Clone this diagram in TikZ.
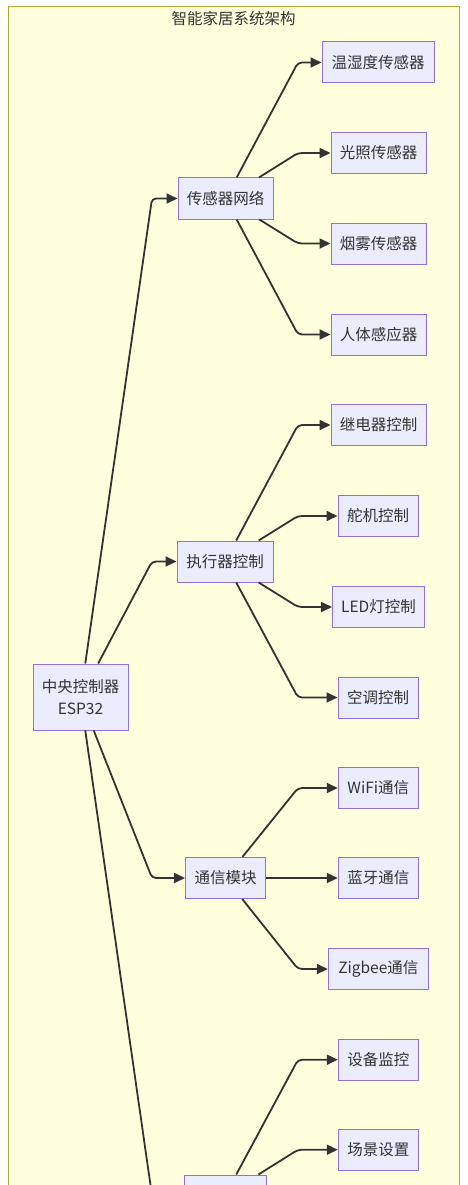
\documentclass[tikz,border=0pt]{standalone}
\usepackage{fontspec}
\setmainfont{Noto Sans CJK SC}
\usetikzlibrary{arrows.meta}
\definecolor{clusterfill}{HTML}{FFFFDE}
\definecolor{clusterline}{HTML}{AAAA33}
\definecolor{nodefill}{HTML}{ECECFF}
\definecolor{nodeline}{HTML}{9370DB}
\definecolor{edgecol}{HTML}{333333}
\definecolor{textcol}{HTML}{333333}
\begin{document}
\begin{tikzpicture}[x=1pt,y=-1pt,
  box/.style={draw=nodeline,fill=nodefill,line width=1pt,inner sep=0pt,
    minimum height=41pt,text=textcol,font=\fontsize{15.5}{22}\selectfont,align=center},
  edge/.style={draw=edgecol,line width=1.8pt,rounded corners=4pt,
    -{Triangle[length=11pt,width=10pt]}},
  titlestyle/.style={text=textcol,font=\fontsize{15.5}{20}\selectfont,inner sep=0pt}
]
\useasboundingbox (0,0) rectangle (467,1185);
\draw[fill=clusterfill,draw=clusterline,line width=1pt] (8,7) rectangle (459,1260);
\node[titlestyle] (title) at (233.5,19) {智能家居系统架构};

% root
\node[box,minimum width=95pt,minimum height=66pt] (root) at (80.5,697) {中央控制器\\ESP32};

% middle nodes
\node[box,minimum width=95pt] (sens) at (225.5,198.5) {传感器网络};
\node[box,minimum width=96pt] (act) at (225,561.5) {执行器控制};
\node[box,minimum width=80pt] (comm) at (225.5,878) {通信模块};
\node[box,minimum width=82pt] (app) at (225,1195.5) {};

% leaves
\node[box,minimum width=112pt] (l1) at (378,62.5) {温湿度传感器};
\node[box,minimum width=95pt] (l2) at (378.5,153) {光照传感器};
\node[box,minimum width=95pt] (l3) at (378.5,243.5) {烟雾传感器};
\node[box,minimum width=95pt] (l4) at (378.5,334.5) {人体感应器};
\node[box,minimum width=95pt] (l5) at (378.5,425) {继电器控制};
\node[box,minimum width=80pt] (l6) at (378,516) {舵机控制};
\node[box,minimum width=92pt] (l7) at (378.5,607) {LED灯控制};
\node[box,minimum width=80pt] (l8) at (378,697.5) {空调控制};
\node[box,minimum width=80pt] (l9) at (378.3,788) {WiFi通信};
\node[box,minimum width=80pt] (l10) at (378.3,878) {蓝牙通信};
\node[box,minimum width=100pt] (l11) at (378.3,969) {Zigbee通信};
\node[box,minimum width=80pt] (l12) at (378.3,1059.7) {设备监控};
\node[box,minimum width=80pt] (l13) at (378.3,1149.7) {场景设置};

% corner coordinates
\coordinate (rc1) at (152,198.5);
\coordinate (rc2) at (152,561.5);
\coordinate (rc3) at (152,878);
\coordinate (rc4) at (152,1195.5);
\coordinate (c1) at (298,62.5);
\coordinate (c2) at (298,153);
\coordinate (c3) at (298,243.5);
\coordinate (c4) at (298,334.5);
\coordinate (c5) at (298,425);
\coordinate (c6) at (298,516);
\coordinate (c7) at (298,607);
\coordinate (c8) at (298,697.5);
\coordinate (c9) at (298,788);
\coordinate (c11) at (298,969);
\coordinate (c12) at (298,1059.7);
\coordinate (c13) at (298,1149.7);

% root edges
\draw[edge] (root) -- (rc1) -- (sens);
\draw[edge] (root) -- (rc2) -- (act);
\draw[edge] (root) -- (rc3) -- (comm);
\draw[edge] (root) -- (rc4) -- (app);

% sensor edges
\draw[edge] (sens) -- (c1) -- (l1);
\draw[edge] (sens) -- (c2) -- (l2);
\draw[edge] (sens) -- (c3) -- (l3);
\draw[edge] (sens) -- (c4) -- (l4);

% actuator edges
\draw[edge] (act) -- (c5) -- (l5);
\draw[edge] (act) -- (c6) -- (l6);
\draw[edge] (act) -- (c7) -- (l7);
\draw[edge] (act) -- (c8) -- (l8);

% communication edges
\draw[edge] (comm) -- (c9) -- (l9);
\draw[edge] (comm) -- (l10);
\draw[edge] (comm) -- (c11) -- (l11);

% app edges
\draw[edge] (app) -- (c12) -- (l12);
\draw[edge] (app) -- (c13) -- (l13);
\end{tikzpicture}
\end{document}
